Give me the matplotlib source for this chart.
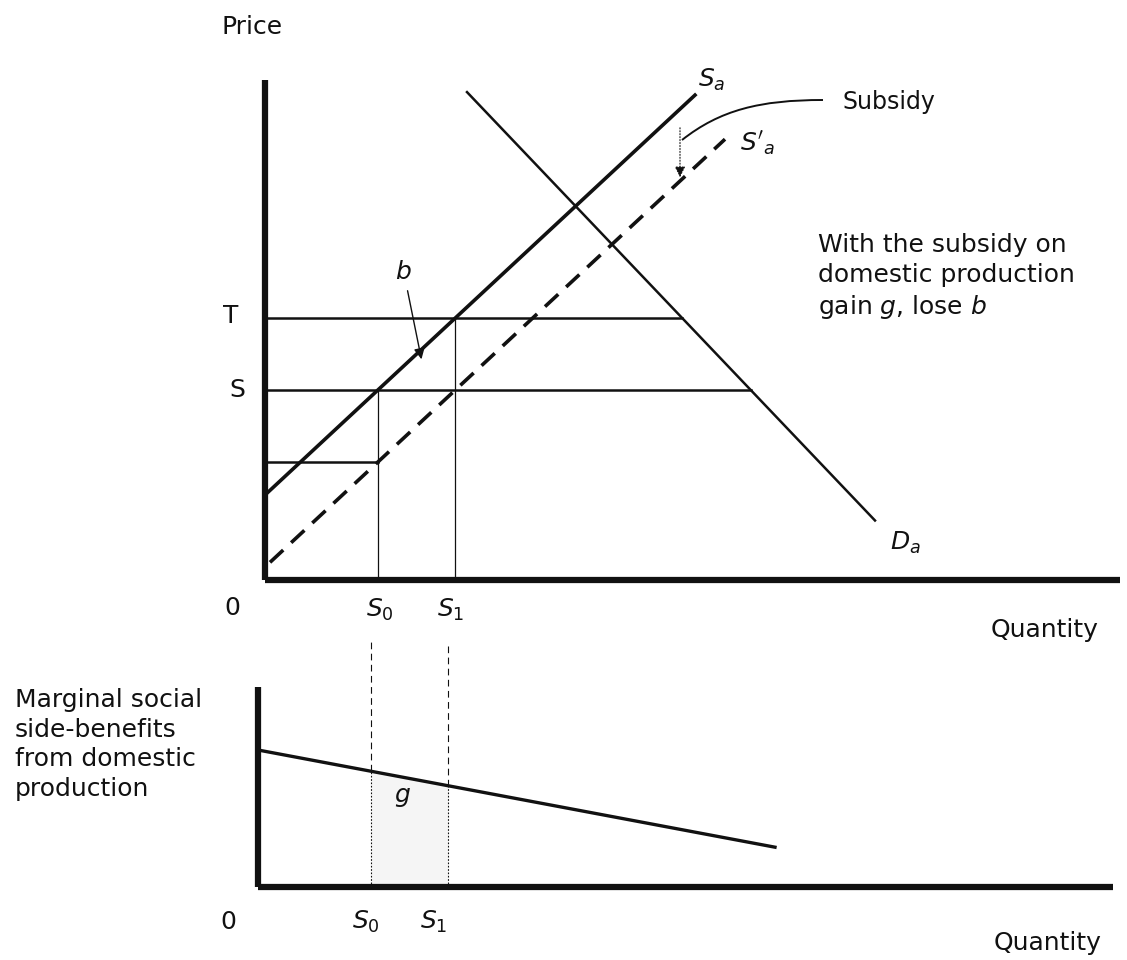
import numpy as np
import matplotlib
matplotlib.use("Agg")
import matplotlib.pyplot as plt
from matplotlib.path import Path
from matplotlib.patches import PathPatch

plt.rcParams["font.family"] = ["DejaVu Sans"]
plt.rcParams["mathtext.fontset"] = "dejavusans"

# ---- model values (price / quantity units) ----
supply_line = [0.85, 0.93]        # intercept, slope of domestic supply S_a
subsidy = 0.72                    # per-unit subsidy = T - S
demand_line = [7.00, -1.05]       # intercept, slope of domestic demand D_a
demand_range = [2.02, 6.10]
supply_range = [0.0, 4.30]
subsidized_range = [0.05, 4.60]
price_levels = {"T": 2.62, "S": 1.90}
msb_line = [1.37, -0.188]         # marginal social side-benefits
msb_range = [0.0, 5.17]

S0 = (price_levels["S"] - supply_line[0]) / supply_line[1]
S1 = (price_levels["T"] - supply_line[0]) / supply_line[1]


def supply(q):
    return supply_line[0] + supply_line[1] * np.asarray(q)


def supply_sub(q):
    return supply(q) - subsidy


def demand(q):
    return demand_line[0] + demand_line[1] * np.asarray(q)


def demand_inv(p):
    return (p - demand_line[0]) / demand_line[1]


def msb(q):
    return msb_line[0] + msb_line[1] * np.asarray(q)


W, H = 1127, 960
fig = plt.figure(figsize=(W / 100, H / 100), dpi=100)
ink = "#111111"
fs = 18

# ---------------- upper panel ----------------
top_h = 650
ax = fig.add_axes([0, 1 - top_h / H, 1, top_h / H])
ax.set_xlim(-2.65, 8.62)
ax.set_ylim(-0.70, 5.80)
ax.axis("off")

# axes
ax.plot([0, 0], [0, 5.0], color=ink, lw=4.5, solid_capstyle="butt")
ax.plot([0, 8.55], [0, 0], color=ink, lw=4.5, solid_capstyle="butt")

# supply, subsidized supply, demand
qs = np.array(supply_range)
ax.plot(qs, supply(qs), color=ink, lw=2.6)
qd = np.array(subsidized_range)
ax.plot(qd, supply_sub(qd), color=ink, lw=2.6, linestyle=(0, (5, 3)))
qD = np.array(demand_range)
ax.plot(qD, demand(qD), color=ink, lw=1.8)

# price lines T and S, and the subsidized cost at S0
for p in price_levels.values():
    ax.plot([0, demand_inv(p)], [p, p], color=ink, lw=1.8)
ax.plot([0, S0], [supply_sub(S0), supply_sub(S0)], color=ink, lw=1.8)

# quantity drop lines
ax.plot([S0, S0], [0, price_levels["S"]], color=ink, lw=0.9)
ax.plot([S1, S1], [0, price_levels["T"]], color=ink, lw=0.9)

# labels
ax.text(-0.13, 5.53, "Price", fontsize=fs, color=ink, ha="center", va="center")
ax.text(-0.34, price_levels["T"] + 0.02, "T", fontsize=fs, color=ink, ha="center", va="center")
ax.text(-0.28, price_levels["S"], "S", fontsize=fs, color=ink, ha="center", va="center")
ax.text(-0.33, -0.28, "0", fontsize=fs, color=ink, ha="center", va="center")
ax.text(S0 + 0.02, -0.30, r"$S_0$", fontsize=fs, color=ink, ha="center", va="center")
ax.text(S1 - 0.05, -0.30, r"$S_1$", fontsize=fs, color=ink, ha="center", va="center")
ax.text(7.80, -0.50, "Quantity", fontsize=fs, color=ink, ha="center", va="center")
ax.text(4.47, 5.00, r"$S_a$", fontsize=fs, color=ink, ha="center", va="center")
ax.text(4.92, 4.36, r"$S'_a$", fontsize=fs, color=ink, ha="center", va="center")
ax.text(6.40, 0.37, r"$D_a$", fontsize=fs, color=ink, ha="center", va="center")
ax.text(5.77, 4.78, "Subsidy", fontsize=17, color=ink, ha="left", va="center")
ax.text(1.38, 3.08, r"$b$", fontsize=fs, color=ink, ha="center", va="center")
ax.text(5.53, 3.47, "With the subsidy on\ndomestic production\ngain $g$, lose $b$",
        fontsize=fs, color=ink, ha="left", va="top", linespacing=1.3)

# curved leader from "Subsidy" to the downward shift
leader = Path([(5.58, 4.80), (4.95, 4.80), (4.55, 4.70), (4.17, 4.40)],
              [Path.MOVETO, Path.CURVE4, Path.CURVE4, Path.CURVE4])
ax.add_patch(PathPatch(leader, fill=False, lw=1.4, edgecolor=ink))
ax.annotate("", xy=(4.15, 4.00), xytext=(4.15, 4.55),
            arrowprops=dict(arrowstyle="-|>", lw=0.8, linestyle=":", color=ink,
                            mutation_scale=16))

# arrow from b to the area between curves
ax.annotate("", xy=(1.57, 2.18), xytext=(1.42, 2.92),
            arrowprops=dict(arrowstyle="-|>", lw=1.0, color=ink, mutation_scale=16))

# ---------------- lower panel ----------------
bot_h = H - top_h
bx = fig.add_axes([0, 0, 1, bot_h / H])
bx.set_xlim(-2.58, 8.69)
bx.set_ylim(-0.73, 2.37)
bx.axis("off")

bx.plot([0, 0], [0, 2.0], color=ink, lw=4.5, solid_capstyle="butt")
bx.plot([0, 8.55], [0, 0], color=ink, lw=4.5, solid_capstyle="butt")

qm = np.array(msb_range)
bx.plot(qm, msb(qm), color=ink, lw=2.4)

# gain area g
qg = np.linspace(S0, S1, 20)
bx.fill_between(qg, 0, msb(qg), color="#f5f5f5", lw=0)

for q in (S0, S1):
    bx.plot([q, q], [msb(q), 2.45], color=ink, lw=0.8, linestyle=(0, (6, 4)), clip_on=False)
    bx.plot([q, q], [0, msb(q)], color=ink, lw=0.8, linestyle=(0, (1.5, 1.5)))

bx.text(-2.43, 1.99, "Marginal social\nside-benefits\nfrom domestic\nproduction",
        fontsize=fs, color=ink, ha="left", va="top", linespacing=1.3)
bx.text(1.44, 0.90, r"$g$", fontsize=fs, color=ink, ha="center", va="center")
bx.text(-0.30, -0.35, "0", fontsize=fs, color=ink, ha="center", va="center")
bx.text(S0 - 0.05, -0.35, r"$S_0$", fontsize=fs, color=ink, ha="center", va="center")
bx.text(S1 - 0.15, -0.35, r"$S_1$", fontsize=fs, color=ink, ha="center", va="center")
bx.text(7.90, -0.56, "Quantity", fontsize=fs, color=ink, ha="center", va="center")

fig.savefig("out.png", dpi=100, facecolor="white")
